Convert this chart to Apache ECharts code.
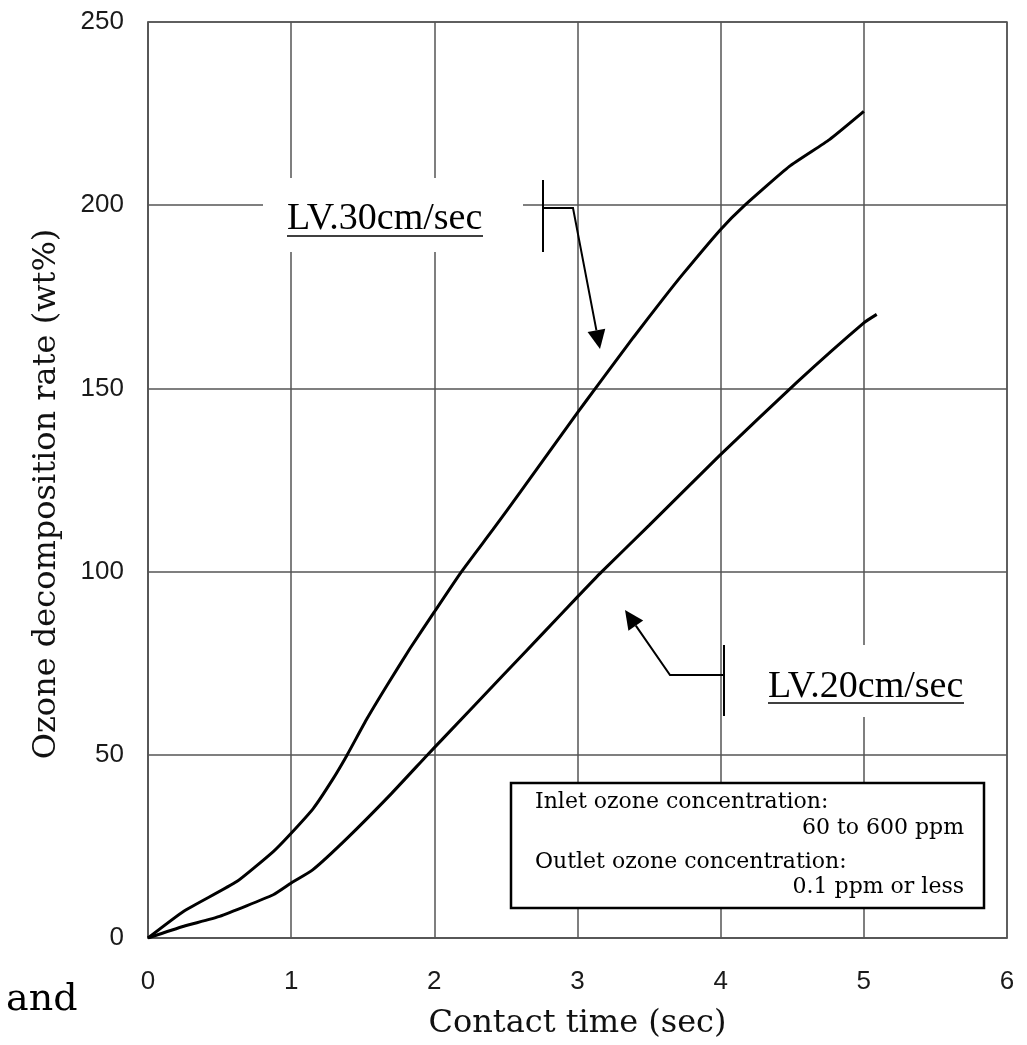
<!DOCTYPE html>
<html>
<head>
<meta charset="utf-8">
<style>html,body{margin:0;padding:0;background:#fff;}#chart{width:1027px;height:1045px;}</style>
<script src="https://cdn.jsdelivr.net/npm/echarts@6/dist/echarts.min.js"></script>
</head>
<body>
<div id="chart"></div>
<script>
// ---- data ----
const lv30Time = [0, 0.25, 0.62, 0.875, 1.0, 1.155, 1.29, 1.39, 1.53, 1.67, 1.83, 2.0, 2.19, 2.41, 2.6, 3.0, 3.133, 3.39, 3.587, 3.74, 4.0, 4.16, 4.48, 4.76, 5.0];
const lv30Rate = [0, 7.3, 15.4, 23.6, 28.6, 35.4, 43.3, 49.9, 59.9, 69.0, 79.0, 89.0, 100.0, 111.5, 121.7, 143.4, 150.4, 163.9, 173.9, 181.4, 193.4, 199.7, 210.6, 217.9, 225.6];
const lv20Time = [0, 0.25, 0.5, 0.875, 1.0, 1.15, 1.39, 1.69, 1.95, 2.05, 2.48, 2.76, 3.0, 3.17, 3.5, 3.99, 4.53, 5.0, 5.09];
const lv20Rate = [0, 3.2, 5.9, 11.8, 15.0, 18.6, 27.2, 39.0, 49.9, 54.0, 71.7, 83.2, 93.1, 100.0, 112.6, 131.6, 151.6, 167.9, 170.2];
const xTicks = [0, 1, 2, 3, 4, 5, 6];
const yTicks = [0, 50, 100, 150, 200, 250];
const seriesNames = ['LV.30cm/sec', 'LV.20cm/sec'];
const xAxisTitle = 'Contact time (sec)';
const yAxisTitle = 'Ozone decomposition rate (wt%)';
const noteLines = ['Inlet ozone concentration:', '60 to 600 ppm', 'Outlet ozone concentration:', '0.1 ppm or less'];
const strayWord = 'and';

const pair = (xs, ys) => xs.map((x, i) => [x, ys[i]]);

const chart = echarts.init(document.getElementById('chart'), null, {renderer: 'canvas'});
const GRID = '#555';
const SERIF = '"DejaVu Serif", serif';
const TIMES = '"Liberation Serif", "Times New Roman", serif';

function arrow(points, z) {
  // polyline with a filled triangular head at the last point
  const n = points.length;
  const [x1, y1] = points[n - 2], [x2, y2] = points[n - 1];
  const ang = Math.atan2(y2 - y1, x2 - x1);
  const L = 19, W = 9;
  const bx = x2 - L * Math.cos(ang), by = y2 - L * Math.sin(ang);
  const px = -Math.sin(ang) * W, py = Math.cos(ang) * W;
  const shaft = points.slice(0, n - 1).concat([[bx, by]]);
  return [
    {type: 'polyline', z: z, shape: {points: shaft}, style: {stroke: '#000', lineWidth: 2, fill: null}},
    {type: 'polygon', z: z, shape: {points: [[x2, y2], [bx + px, by + py], [bx - px, by - py]]}, style: {fill: '#000'}}
  ];
}

const graphics = [
  // LV.30 label
  {type: 'rect', z: 5, shape: {x: 263, y: 178, width: 260, height: 74}, style: {fill: '#fff'}},
  {type: 'text', z: 6, style: {x: 287, y: 219, text: seriesNames[0], font: '38px ' + TIMES, fill: '#000', verticalAlign: 'middle'}},
  {type: 'line', z: 6, shape: {x1: 287, y1: 236, x2: 483, y2: 236}, style: {stroke: '#000', lineWidth: 1.5}},
  {type: 'line', z: 6, shape: {x1: 543, y1: 180, x2: 543, y2: 252}, style: {stroke: '#000', lineWidth: 2}},
  ...arrow([[543, 208], [573, 208], [600, 349]], 6),
  // LV.20 label
  {type: 'rect', z: 5, shape: {x: 745, y: 645, width: 240, height: 72}, style: {fill: '#fff'}},
  {type: 'text', z: 6, style: {x: 768, y: 687, text: seriesNames[1], font: '38px ' + TIMES, fill: '#000', verticalAlign: 'middle'}},
  {type: 'line', z: 6, shape: {x1: 768, y1: 703, x2: 964, y2: 703}, style: {stroke: '#000', lineWidth: 1.5}},
  {type: 'line', z: 6, shape: {x1: 724, y1: 645, x2: 724, y2: 716}, style: {stroke: '#000', lineWidth: 2}},
  ...arrow([[724, 675], [670, 675], [625, 610]], 6),
  // condition box
  {type: 'rect', z: 5, shape: {x: 511, y: 783, width: 473, height: 125}, style: {fill: '#fff', stroke: '#000', lineWidth: 2.5}},
  {type: 'text', z: 6, style: {x: 535, y: 802, text: noteLines[0], font: '22px ' + SERIF, fill: '#000', verticalAlign: 'middle'}},
  {type: 'text', z: 6, style: {x: 964, y: 828, text: noteLines[1], font: '22px ' + SERIF, fill: '#000', align: 'right', verticalAlign: 'middle'}},
  {type: 'text', z: 6, style: {x: 535, y: 862, text: noteLines[2], font: '22px ' + SERIF, fill: '#000', verticalAlign: 'middle'}},
  {type: 'text', z: 6, style: {x: 964, y: 887, text: noteLines[3], font: '22px ' + SERIF, fill: '#000', align: 'right', verticalAlign: 'middle'}},
  // stray word at bottom-left
  {type: 'text', z: 6, style: {x: 6, y: 1000, text: strayWord, font: '38px ' + SERIF, fill: '#000', verticalAlign: 'middle'}}
];

const option = {
  backgroundColor: '#fff',
  animation: false,
  grid: {left: 148, right: 20, top: 22, bottom: 105, show: true, borderColor: GRID, borderWidth: 1.5, backgroundColor: 'transparent'},
  xAxis: {
    type: 'value', min: xTicks[0], max: xTicks[xTicks.length - 1], interval: 1,
    name: xAxisTitle, nameLocation: 'middle', nameGap: 70,
    nameTextStyle: {fontFamily: 'DejaVu Serif', fontSize: 32, color: '#111'},
    axisLine: {show: true, lineStyle: {color: GRID, width: 1.5}},
    axisTick: {show: false},
    axisLabel: {margin: 31, fontFamily: 'Liberation Sans', fontSize: 26, color: '#1a1a1a'},
    splitLine: {show: true, lineStyle: {color: GRID, width: 1.5}}
  },
  yAxis: {
    type: 'value', min: yTicks[0], max: yTicks[yTicks.length - 1], interval: 50,
    name: yAxisTitle, nameLocation: 'middle', nameGap: 85,
    nameTextStyle: {fontFamily: 'DejaVu Serif', fontSize: 32, color: '#111', padding: [0, 28, 0, 0]},
    axisLine: {show: true, lineStyle: {color: GRID, width: 1.5}},
    axisTick: {show: false},
    axisLabel: {margin: 24, fontFamily: 'Liberation Sans', fontSize: 26, color: '#1a1a1a'},
    splitLine: {show: true, lineStyle: {color: GRID, width: 1.5}}
  },
  series: [
    {name: seriesNames[0], type: 'line', data: pair(lv30Time, lv30Rate), smooth: 0.15, symbol: 'none',
     lineStyle: {color: '#000', width: 3}, z: 3},
    {name: seriesNames[1], type: 'line', data: pair(lv20Time, lv20Rate), smooth: 0.15, symbol: 'none',
     lineStyle: {color: '#000', width: 3}, z: 3}
  ],
  graphic: graphics
};
chart.setOption(option);
</script>
</body>
</html>
